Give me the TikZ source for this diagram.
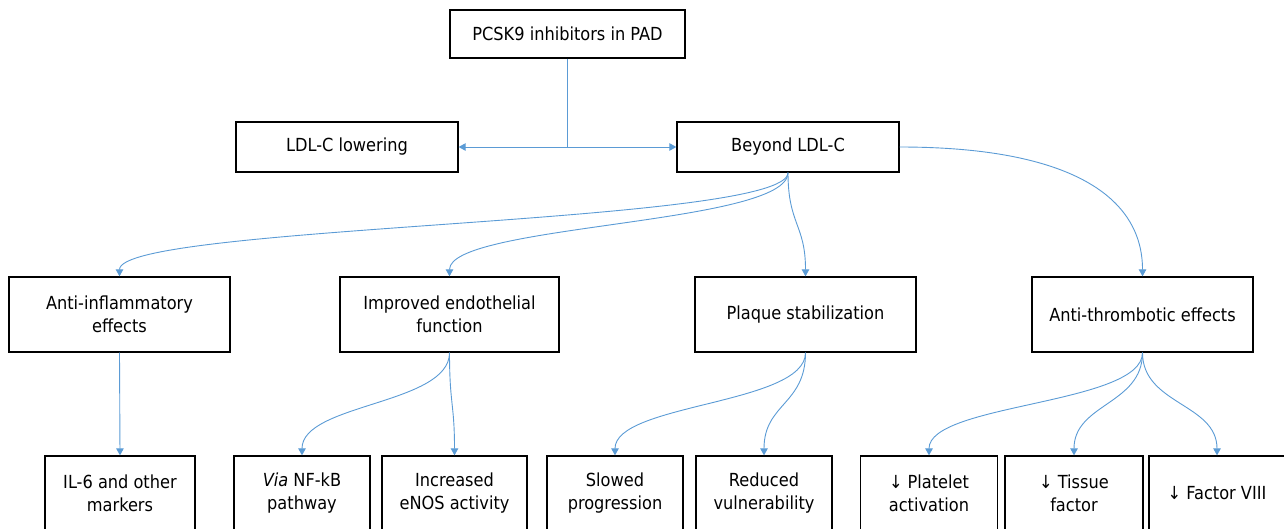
\documentclass[tikz,border=0pt]{standalone}
\usepackage{fontspec}
\setmainfont{DejaVu Sans Condensed}
\usetikzlibrary{arrows.meta,calc}
\definecolor{lnblue}{HTML}{5B9BD5}
\begin{document}
\begin{tikzpicture}[x=1pt,y=-1pt,
  box/.style={draw=black,line width=1.3pt,fill=white,align=center,inner sep=0pt,
    font=\fontsize{18}{23}\selectfont},
  conn/.style={draw=lnblue,line width=0.9pt},
  arr/.style={conn,-{Triangle[length=7pt,width=7.5pt]}}]
\useasboundingbox (0,0) rectangle (1284,528);
% level 0/1
\node[box,minimum width=235pt,minimum height=48pt] (top) at (567.5,34) {PCSK9 inhibitors in PAD};
\node[box,minimum width=222pt,minimum height=50pt] (ldl) at (347,147) {LDL-C lowering};
\node[box,minimum width=222pt,minimum height=50pt] (beyond) at (788,147) {Beyond LDL-C};
% level 2
\node[box,minimum width=221pt,minimum height=75pt] (anti) at (119.5,314.5) {Anti-inflammatory\\effects};
\node[box,minimum width=219pt,minimum height=75pt] (endo) at (449.5,314.5) {Improved endothelial\\function};
\node[box,minimum width=221pt,minimum height=75pt] (plaque) at (805.5,314.5) {Plaque stabilization};
\node[box,minimum width=221pt,minimum height=75pt] (thromb) at (1142.5,314.5) {Anti-thrombotic effects};
% level 3
\node[box,minimum width=150pt,minimum height=75pt] (il6) at (120,493.5) {IL-6 and other\\markers};
\node[box,minimum width=136pt,minimum height=75pt] (nfkb) at (302,493.5) {\textit{Via} NF-kB\\pathway};
\node[box,minimum width=145pt,minimum height=75pt] (enos) at (454.5,493.5) {Increased\\eNOS activity};
\node[box,minimum width=136pt,minimum height=75pt] (slow) at (615,493.5) {Slowed\\progression};
\node[box,minimum width=136pt,minimum height=75pt] (vuln) at (764,493.5) {Reduced\\vulnerability};
\node[box,minimum width=137pt,minimum height=75pt] (plat) at (929,493.5) {↓ Platelet\\activation};
\node[box,minimum width=138pt,minimum height=75pt] (tiss) at (1074,493.5) {↓ Tissue\\factor};
\node[box,minimum width=136pt,minimum height=75pt] (f8) at (1217,493.5) {↓ Factor VIII};
% connectors level 0 -> 1
\coordinate (j) at (top.south |- ldl.east);
\draw[conn] (top.south) -- (j);
\draw[arr] (j) -- (ldl.east);
\draw[arr] (j) -- (beyond.west);
% level 1 -> 2
\foreach \t in {anti,endo,plaque}{
  \draw[arr] (beyond.south) .. controls ($(beyond.south)+(0,52)$) and ($(\t.north)+(0,-52)$) .. (\t.north);
}
\draw[arr] (beyond.east) .. controls ($(beyond.east)+(170,0)$) and ($(thromb.north)+(0,-80)$) .. (thromb.north);
% level 2 -> 3
\draw[arr] (anti.south) -- (il6.north);
\foreach \s/\t in {endo/nfkb,endo/enos,plaque/slow,plaque/vuln,thromb/plat,thromb/tiss,thromb/f8}{
  \draw[arr] (\s.south) .. controls ($(\s.south)+(0,52)$) and ($(\t.north)+(0,-52)$) .. (\t.north);
}
\end{tikzpicture}
\end{document}
